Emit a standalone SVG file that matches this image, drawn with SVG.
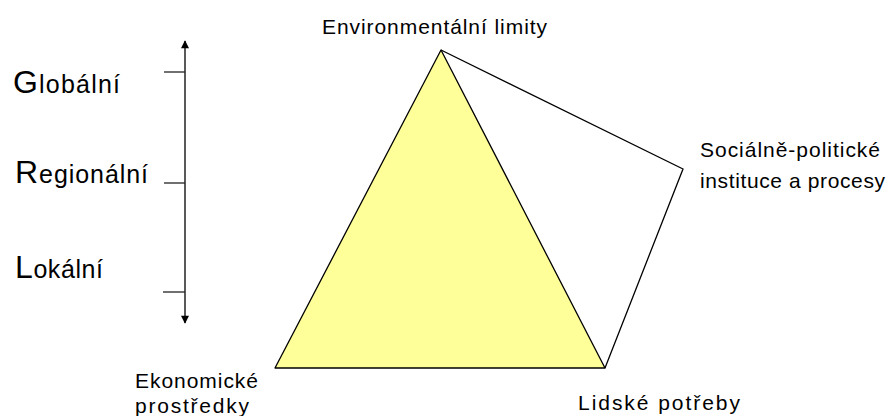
<svg xmlns="http://www.w3.org/2000/svg" width="893" height="416" viewBox="0 0 893 416">
<style>
  .lbl{font-family:"Liberation Sans",Arial,sans-serif;font-size:21px;fill:#000}
  .lvl{font-family:"Liberation Sans",Arial,sans-serif;font-size:25px;fill:#000}
  .big{font-size:32px}
  .ln{stroke:#000;stroke-width:1.3;fill:none}
  .tick{stroke:#222;stroke-width:1.3}
</style>
<defs>
  <marker id="arr" viewBox="0 0 10 10" refX="9" refY="5" markerWidth="9" markerHeight="8" markerUnits="userSpaceOnUse" orient="auto-start-reverse">
    <path d="M0,0 L10,5 L0,10 z" fill="#000"/>
  </marker>
</defs>
<rect width="893" height="416" fill="#fff"/>

<g id="scale">
  <line class="ln" x1="185" y1="41" x2="185" y2="323" marker-start="url(#arr)" marker-end="url(#arr)"/>
  <line class="tick" x1="164" y1="72" x2="185" y2="72"/>
  <line class="tick" x1="164" y1="183" x2="185" y2="183"/>
  <line class="tick" x1="163" y1="292" x2="185" y2="292"/>
</g>

<g id="level-global">
  <text class="lvl" x="13" y="93" textLength="107" lengthAdjust="spacing"><tspan class="big">G</tspan>lobální</text>
</g>
<g id="level-regional">
  <text class="lvl" x="15" y="183" textLength="133" lengthAdjust="spacing"><tspan class="big">R</tspan>egionální</text>
</g>
<g id="level-local">
  <text class="lvl" x="15" y="278" textLength="88" lengthAdjust="spacing"><tspan class="big">L</tspan>okální</text>
</g>

<g id="triangle">
  <polygon points="441,50 275,368 605,368" fill="#FFFF99" stroke="#000" stroke-width="1.3" stroke-linejoin="round"/>
</g>

<g id="connectors">
  <polyline class="ln" points="441,50 683,169 605,368"/>
</g>

<g id="env-limits">
  <text class="lbl" x="322" y="34" textLength="225" lengthAdjust="spacing">Environmentální limity</text>
</g>
<g id="social-political">
  <text class="lbl" x="700" y="157" textLength="180" lengthAdjust="spacing">Sociálně-politické</text>
  <text class="lbl" x="700" y="188" textLength="185" lengthAdjust="spacing">instituce a procesy</text>
</g>
<g id="economic">
  <text class="lbl" x="135" y="388" textLength="123" lengthAdjust="spacing">Ekonomické</text>
  <text class="lbl" x="135" y="413" textLength="114" lengthAdjust="spacing">prostředky</text>
</g>
<g id="human-needs">
  <text class="lbl" x="578" y="410" textLength="162" lengthAdjust="spacing">Lidské potřeby</text>
</g>
</svg>
